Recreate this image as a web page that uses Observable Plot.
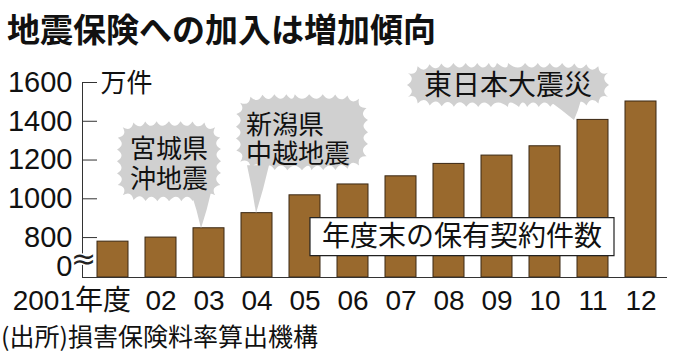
<!DOCTYPE html>
<html>
<head>
<meta charset="utf-8">
<script src="https://cdn.jsdelivr.net/npm/d3@7"></script>
<script src="https://cdn.jsdelivr.net/npm/@observablehq/plot@0.6"></script>
<style>
  html, body { margin: 0; padding: 0; background: #fff; }
  #wrap { width: 680px; height: 355px; overflow: hidden; position: relative; }
  #title { height: 55px; line-height: 56px; font-family: "Noto Sans CJK JP", sans-serif; font-weight: 700; font-size: 33px; padding-left: 7px; color: #111; white-space: nowrap; }
  #caption { height: 38px; line-height: 36px; font-family: "Noto Sans CJK JP", sans-serif; font-size: 25px; padding-left: 1px; color: #111; white-space: nowrap; }
  svg { display: block; }
</style>
</head>
<body>
<div id="wrap">
  <div id="title"></div>
  <div id="chart"></div>
  <div id="caption"></div>
</div>
<script>
// ---- data ----
const titleText = "地震保険への加入は増加傾向";
const sourceText = "(出所)損害保険料率算出機構";
const years = ["2001","2002","2003","2004","2005","2006","2007","2008","2009","2010","2011","2012"];
const xLabels = ["2001年度","02","03","04","05","06","07","08","09","10","11","12"];
const values = [779, 800, 848, 926, 1018, 1074, 1116, 1180, 1223, 1271, 1407, 1502];
const yTicks = [800, 1000, 1200, 1400, 1600];
const zeroLabel = "0";
const unitLabel = "万件";
const eventYears = ["2003", "2004", "2011"];
const eventLabels = ["宮城県\n沖地震", "新潟県\n中越地震", "東日本大震災"];
const legendLabel = "年度末の保有契約件数";

// ---- build ----
document.getElementById("title").textContent = titleText;
document.getElementById("caption").textContent = sourceText;

const yBase = 594; // visual bottom of the broken axis
const bars = years.map((year, i) => ({year, value: values[i], label: xLabels[i]}));
const events = eventYears.map((year, i) => ({year, value: values[years.indexOf(year)], label: eventLabels[i]}));

// starburst callout symbol (pixel geometry relative to the bar top)
function burst(cx, cy, rx, ry, b1, b2, tip) {
  return {
    draw(ctx) {
      const M = 1600, n = 5, pts = [];
      for (let i = 0; i < M; i++) {
        const t = 2 * Math.PI * i / M, c = Math.cos(t), s = Math.sin(t);
        pts.push([cx + rx * Math.sign(c) * Math.pow(Math.abs(c), 2 / n), cy + ry * Math.sign(s) * Math.pow(Math.abs(s), 2 / n)]);
      }
      const cum = [0];
      for (let i = 1; i <= M; i++) {
        const a = pts[i - 1], b = pts[i % M];
        cum.push(cum[i - 1] + Math.hypot(b[0] - a[0], b[1] - a[1]));
      }
      const L = cum[M];
      const N = Math.max(8, Math.round(L / 12));
      const at = (d) => {
        d = ((d % L) + L) % L;
        let i = d3.bisectRight(cum, d) - 1; if (i >= M) i = M - 1;
        const p = pts[i], q = pts[(i + 1) % M], pp = pts[(i - 1 + M) % M];
        const tx = q[0] - pp[0], ty = q[1] - pp[1], tl = Math.hypot(tx, ty);
        return {p, nx: -ty / tl, ny: tx / tl};
      };
      const depth = 9;
      for (let k = 0; k < N; k++) {
        const a = at(k * L / N).p;
        const m = at((k + 0.5) * L / N);
        const b = at((k + 1) * L / N).p;
        if (k === 0) ctx.moveTo(a[0], a[1]);
        ctx.quadraticCurveTo(m.p[0] + m.nx * depth, m.p[1] + m.ny * depth, b[0], b[1]);
      }
      ctx.closePath();
      // pointer (same winding)
      ctx.moveTo(b1[0], b1[1]);
      ctx.lineTo(b2[0], b2[1]);
      ctx.quadraticCurveTo((b2[0] + tip[0]) / 2 + 1, (b2[1] + tip[1]) / 2, tip[0], tip[1]);
      ctx.quadraticCurveTo((b1[0] + tip[0]) / 2 + 1, (b1[1] + tip[1]) / 2, b1[0], b1[1]);
      ctx.closePath();
    }
  };
}
const burstShapes = [
  burst(-40, -67, 52, 40, [-18, -36], [2, -36], [-8, 0]),
  burst(45, -81, 66, 38, [-10, -48], [12, -48], [-1, 0]),
  burst(-85, -35, 101, 22, [-45, -20], [-12, -20], [-19, 0])
];
const boxShape = {
  draw(ctx) { const w = 304, h = 38; ctx.moveTo(-w / 2, -h / 2); ctx.lineTo(w / 2, -h / 2); ctx.lineTo(w / 2, h / 2); ctx.lineTo(-w / 2, h / 2); ctx.closePath(); }
};

const numFont = "Liberation Sans, Arial, Noto Sans CJK JP, sans-serif";
const jpFont = "Noto Sans CJK JP, sans-serif";

const chart = Plot.plot({
  width: 680,
  height: 262,
  marginTop: 27,
  marginBottom: 40,
  marginLeft: 82,
  marginRight: 13,
  style: {fontFamily: numFont, background: "white", overflow: "visible", color: "#111"},
  x: {type: "band", domain: years, paddingInner: 0.35, paddingOuter: 0.175, insetLeft: 6, insetRight: 1, axis: null},
  y: {domain: [yBase, 1600], axis: null},
  marks: [
    Plot.frame({anchor: "left", stroke: "#333"}),
    Plot.ruleY(yTicks, {stroke: "#333", insetRight: 680 - 82 - 13 - 15}),
    Plot.barY(bars, {x: "year", y1: yBase, y2: "value", fill: "#99692d", stroke: "#3a2814", strokeWidth: 1}),
    Plot.ruleY([yBase], {stroke: "#333"}),
    Plot.axisY(yTicks, {anchor: "left", tickSize: 0, tickPadding: 10, fontSize: 29, label: null, fill: "#111", tickFormat: (d) => String(d)}),
    Plot.text([zeroLabel], {y: yBase, frameAnchor: "left", textAnchor: "end", dx: -10, dy: -11, fontSize: 29, fill: "#111"}),
    Plot.text(["≈"], {y: yBase, frameAnchor: "left", textAnchor: "middle", dx: 1, dy: -18, fontSize: 30, fontFamily: "DejaVu Sans", fill: "#222", stroke: "white", strokeWidth: 3, paintOrder: "stroke"}),
    Plot.text([unitLabel], {y: 1600, frameAnchor: "left", textAnchor: "start", dx: 18, dy: 1, fontSize: 26, fontFamily: jpFont, fill: "#111"}),
    Plot.text(bars.slice(0, 1), {x: "year", y: yBase, text: "label", textAnchor: "end", dx: 18, dy: 24, fontSize: 28, fill: "#111"}),
    Plot.text(bars.slice(1), {x: "year", y: yBase, text: "label", textAnchor: "middle", dy: 24, fontSize: 28, fill: "#111"}),
    // callouts
    ...events.map((e, i) => Plot.dot([e], {x: "year", y: "value", symbol: burstShapes[i], r: 5, fill: "#d0d0d0", stroke: "none"})),
    Plot.text(events.slice(0, 1), {x: "year", y: "value", text: "label", dx: -40, dy: -65, fontSize: 26, lineHeight: 1.16, fontFamily: jpFont, fill: "#111", textAnchor: "middle"}),
    Plot.text(events.slice(1, 2), {x: "year", y: "value", text: "label", dx: -11, dy: -74, fontSize: 26, lineHeight: 1.12, fontFamily: jpFont, fill: "#111", textAnchor: "start"}),
    Plot.text(events.slice(2, 3), {x: "year", y: "value", text: "label", dx: -85, dy: -34, fontSize: 28, fontFamily: jpFont, fill: "#111", textAnchor: "middle"}),
    // legend box
    Plot.dot([{year: "2008", value: 800}], {x: "year", y: "value", symbol: boxShape, r: 5, fill: "white", stroke: "#222", strokeWidth: 1.2, dx: 13, dy: -1}),
    Plot.text([{year: "2008", value: 800, label: legendLabel}], {x: "year", y: "value", text: "label", dx: 13, dy: -1, fontSize: 28, fontFamily: jpFont, fill: "#111"})
  ]
});
document.getElementById("chart").appendChild(chart);
</script>
</body>
</html>
